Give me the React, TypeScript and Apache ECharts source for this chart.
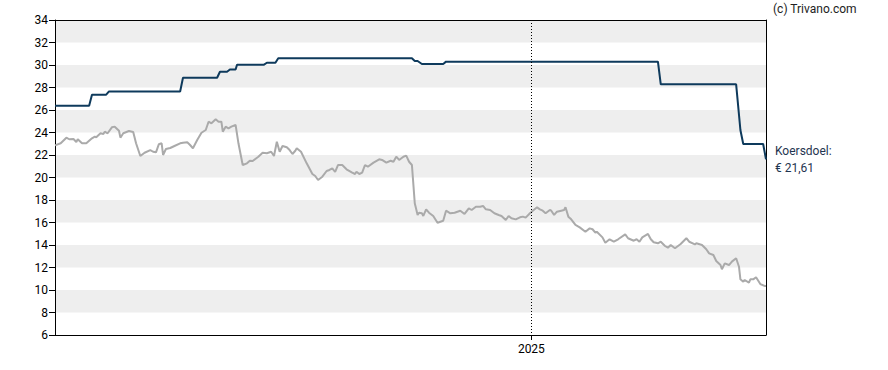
import React, { useEffect, useRef } from "react";
import * as echarts from "echarts";

// Start date of the chart (day 0); x values are day offsets from it
const START_DATE = [2024, 1, 1]; // 2024-02-01
const YEAR_MARKER = [2025, 0, 1]; // 2025-01-01

const yTicks = { min: 6, max: 34, step: 2 };

const priceDays = [0,4,8,10,13,15,16,19,22,26,28,29,32,34,35,37,40,42,45,46,48,52,55,57,60,63,67,69,71,73,75,76,78,81,84,88,90,93,95,97,100,103,106,108,110,113,115,117,118,120,122,124,127,129,132,135,137,139,143,146,149,152,154,156,158,160,163,165,167,169,170,173,177,181,183,185,188,191,193,195,197,199,202,205,209,211,212,214,216,218,220,224,228,230,233,236,238,240,242,245,247,249,251,253,255,256,258,259,261,263,266,269,271,273,275,278,281,285,288,291,293,296,299,301,303,306,309,312,314,317,319,321,324,327,329,331,334,336,339,341,343,345,348,349,351,353,356,358,359,361,363,366,369,373,376,378,380,381,385,387,390,393,396,401,403,407,409,411,413,417,419,421,424,426,429,431,433,436,440,444,446,450,451,455,458,460,463,465,468,469,471,474,476,479,481,482,484,485,488,489,491,493,496,499,500];

const priceValues = [22.86,23.04,23.54,23.40,23.42,23.16,23.40,23.04,23.04,23.48,23.63,23.58,23.93,23.87,24.07,23.93,24.46,24.52,24.16,23.54,23.93,24.13,24.04,23.04,21.91,22.20,22.44,22.29,22.24,22.95,23.04,22.00,22.53,22.62,22.80,23.04,23.09,23.13,22.89,22.60,23.33,23.98,24.22,24.96,24.82,25.17,24.96,24.96,24.07,24.52,24.37,24.52,24.67,23.04,21.11,21.26,21.49,21.47,21.85,22.20,22.15,22.29,21.91,23.18,22.29,22.80,22.69,22.44,22.09,22.38,22.60,22.29,21.26,20.31,20.13,19.78,20.07,20.58,20.67,20.82,20.49,21.11,21.11,20.73,20.43,20.31,20.51,20.31,20.43,21.11,20.96,21.32,21.62,21.56,21.32,21.49,21.40,21.85,21.56,21.85,21.94,21.40,21.11,17.71,16.67,16.87,16.82,16.58,17.17,16.87,16.58,15.98,16.07,16.16,17.05,16.82,16.87,17.05,16.76,17.26,17.11,17.40,17.40,17.47,17.17,17.11,16.82,16.67,16.58,16.22,16.58,16.37,16.28,16.46,16.52,16.43,16.82,17.05,17.35,17.17,17.05,16.82,17.11,17.05,16.67,16.96,17.05,17.11,17.35,16.52,16.28,15.78,15.57,15.18,15.48,15.40,15.09,15.18,14.68,14.20,14.51,14.29,14.51,14.95,14.60,14.38,14.51,14.29,14.68,14.98,14.51,14.24,14.15,14.29,13.91,13.76,14.00,13.71,14.09,14.60,14.29,14.06,14.15,14.00,13.62,13.26,13.11,12.58,12.22,11.84,12.37,12.22,12.52,12.82,12.07,10.95,10.74,10.89,10.65,10.95,10.95,11.13,10.53,10.36,10.36];

const targetDays = [0,24,26,36,38,88,90,114,116,121,123,127,128,147,149,155,157,251,253,255,258,273,275,424,426,479,482,484,498,500];
const targetValues = [26.38,26.38,27.36,27.36,27.65,27.65,28.87,28.87,29.40,29.40,29.60,29.60,30.03,30.03,30.20,30.20,30.60,30.60,30.36,30.36,30.09,30.09,30.30,30.30,28.28,28.28,24.22,22.98,22.98,21.61];

const TARGET_LABEL = "Koersdoel:";
const COPYRIGHT = "(c) Trivano.com";

const DAY = 86400000;

export default function App() {
  const ref = useRef<HTMLDivElement>(null);

  useEffect(() => {
    document.body.style.margin = "0";
    if (!ref.current) return;
    const chart = echarts.init(ref.current, null, { renderer: "svg" });
    const start = new Date(START_DATE[0], START_DATE[1], START_DATE[2]).getTime();
    const toT = (d: number) => start + d * DAY;
    const marker = new Date(YEAR_MARKER[0], YEAR_MARKER[1], YEAR_MARKER[2]).getTime();
    const lastDay = Math.max(priceDays[priceDays.length - 1], targetDays[targetDays.length - 1]);

    const price = priceDays.map((d, i) => [toT(d), priceValues[i]]);
    const target = targetDays.map((d, i) => [toT(d), targetValues[i]]);
    const font = "Roboto";

    chart.setOption({
      animation: false,
      textStyle: { fontFamily: font },
      grid: { left: 55, right: 122, top: 20, bottom: 35, containLabel: false },
      xAxis: [
        {
          type: "time",
          min: start,
          max: toT(lastDay),
          axisLine: { show: true, lineStyle: { color: "#000", width: 1 } },
          axisTick: { show: false },
          splitLine: { show: false },
          axisLabel: {
            color: "#000",
            fontSize: 12,
            fontFamily: font,
            margin: 8,
            hideOverlap: false,
            formatter: (v: number) => {
              const d = new Date(v);
              return d.getMonth() === 0 && d.getDate() === 1 ? String(d.getFullYear()) : "";
            },
          },
        },
        {
          type: "value",
          position: "top",
          axisLine: { show: true, onZero: false, lineStyle: { color: "#000", width: 1 } },
          axisTick: { show: false },
          axisLabel: { show: false },
          splitLine: { show: false },
        },
      ],
      yAxis: [
        {
          type: "value",
          min: yTicks.min,
          max: yTicks.max,
          interval: yTicks.step,
          axisLine: { show: true, lineStyle: { color: "#000", width: 1 } },
          axisTick: { show: true, length: 6, lineStyle: { color: "#000" } },
          splitLine: { show: false },
          splitArea: { show: true, areaStyle: { color: ["#ffffff", "#eeeeee"] } },
          axisLabel: { color: "#000", fontSize: 12, fontFamily: font, margin: 7 },
        },
        {
          type: "value",
          position: "right",
          axisLine: { show: true, onZero: false, lineStyle: { color: "#000", width: 1 } },
          axisTick: { show: false },
          axisLabel: { show: false },
          splitLine: { show: false },
        },
      ],
      graphic: [
        {
          type: "text",
          left: 773,
          top: 3,
          style: { text: COPYRIGHT, font: `12px ${font}`, fill: "#222" },
        },
      ],
      series: [
        {
          type: "line",
          data: price,
          showSymbol: false,
          lineStyle: { color: "#aaaaaa", width: 2 },
          itemStyle: { color: "#aaaaaa" },
          z: 2,
        },
        {
          type: "line",
          data: target,
          showSymbol: false,
          lineStyle: { color: "#0e3a5c", width: 2 },
          itemStyle: { color: "#0e3a5c" },
          z: 3,
          endLabel: {
            show: true,
            distance: 9,
            color: "#1f3550",
            fontSize: 12,
            lineHeight: 17,
            fontFamily: font,
            align: "left",
            formatter: (p: any) =>
              `${TARGET_LABEL}\n€ ${Number(p.value[1]).toFixed(2).replace(".", ",")}`,
          },
        },
        {
          type: "custom",
          data: [[marker]],
          clip: false,
          z: 4,
          renderItem: (params: any, api: any) => {
            const top = api.coord([api.value(0), yTicks.max]);
            const bot = api.coord([api.value(0), yTicks.min]);
            const x = Math.round(top[0]) + 0.5;
            return {
              type: "group",
              children: [
                {
                  type: "line",
                  shape: { x1: x, y1: top[1], x2: x, y2: bot[1] },
                  style: { stroke: "#000", lineWidth: 1, lineDash: [1, 2] },
                },
                {
                  type: "line",
                  shape: { x1: x, y1: bot[1], x2: x, y2: bot[1] + 5 },
                  style: { stroke: "#000", lineWidth: 1 },
                },
              ],
            };
          },
        },
      ],
    });
    return () => chart.dispose();
  }, []);

  return <div ref={ref} style={{ width: 888, height: 370 }} />;
}
